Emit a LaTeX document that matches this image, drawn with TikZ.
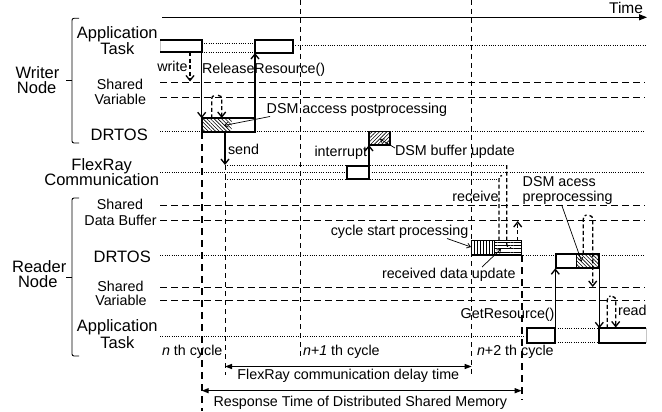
\documentclass[tikz,border=0pt]{standalone}
\usepackage{fontspec}
\setmainfont{Liberation Sans}
\usetikzlibrary{arrows.meta,patterns,patterns.meta}
\begin{document}
\begin{tikzpicture}[x=1pt,y=-1pt,
  every node/.style={inner sep=0pt,outer sep=0pt},
  big/.style={font=\fontsize{16.5}{16}\selectfont,anchor=base},
  small/.style={font=\fontsize{14.3}{14.5}\selectfont,anchor=base},
  rowdash/.style={line width=0.9pt,dash pattern=on 6.5pt off 4.5pt},
  rowdot/.style={line width=1pt,dash pattern=on 1pt off 1.3pt},
  cycline/.style={line width=0.9pt,dash pattern=on 5pt off 4pt},
  respline/.style={line width=1.9pt,dash pattern=on 7pt off 5pt},
  thinline/.style={line width=0.9pt,dash pattern=on 5pt off 4pt},
  task/.style={line width=2pt},
  call/.style={line width=1.3pt,-{Straight Barb[length=5pt,width=8pt]}},
  access/.style={line width=1.3pt,dash pattern=on 4pt off 2.5pt,-{Straight Barb[length=5pt,width=8pt]}},
  hookline/.style={line width=1.3pt,dash pattern=on 4pt off 2.5pt},
  leader/.style={line width=0.7pt,-{Straight Barb[length=3.5pt,width=5pt]}},
  span/.style={line width=1.3pt,{Triangle[length=7pt,width=5pt]}-{Triangle[length=7pt,width=5pt]}},
  hatchnw/.style={pattern={Lines[angle=-45,distance=2.6pt,line width=0.6pt]}},
  hatchne/.style={pattern={Lines[angle=45,distance=2.6pt,line width=0.6pt]}},
  hatchv/.style={pattern={Lines[angle=90,distance=3pt,line width=0.7pt]}},
  hatchh/.style={pattern={Lines[angle=0,distance=3.2pt,line width=0.7pt]}},
]
\useasboundingbox (0,0) rectangle (662,412);

% ---- time axis ----
\coordinate (t0) at (162,17.3);
\coordinate (t1) at (647,17.3);
\draw[line width=1.2pt,-{Triangle[length=8pt,width=6pt]}] (t0) -- (t1);
\node[font=\fontsize{15.5}{16}\selectfont,anchor=base east] (timelbl) at (643,14) {Time};

% ---- node brackets and row names ----
\draw[line width=0.9pt,rounded corners=2pt] (79,18.3) -- (72,18.3) -- (72,143) -- (79,143);
\draw[line width=0.9pt] (72,80) -- (65.5,80);
\draw[line width=0.9pt,rounded corners=2pt] (79,198) -- (72,198) -- (72,356) -- (79,356);
\draw[line width=0.9pt] (72,277.3) -- (65.5,277.3);

\node[big] (wn1) at (37.5,78.3) {Writer};
\node[big] (wn2) at (36.7,94) {Node};
\node[big] (rn1) at (39.2,272.3) {Reader};
\node[big] (rn2) at (37.8,287.7) {Node};

\node[big] (wapp1) at (117.3,38.3) {Application};
\node[big] (wapp2) at (117.3,54.3) {Task};
\node[small] (wsv1) at (120,89.3) {Shared};
\node[small] (wsv2) at (120.3,104) {Variable};
\node[big] (wos) at (119.2,140) {DRTOS};
\node[big] (fr1) at (101.7,170) {FlexRay};
\node[big] (fr2) at (101.7,185) {Communication};
\node[small] (rsb1) at (120,209.5) {Shared};
\node[small] (rsb2) at (120.5,225) {Data Buffer};
\node[big] (ros) at (122.2,262.3) {DRTOS};
\node[small] (rsv1) at (120.5,291.7) {Shared};
\node[small] (rsv2) at (121,305) {Variable};
\node[big] (rapp1) at (117.3,331.7) {Application};
\node[big] (rapp2) at (117.3,348.3) {Task};

% ---- row rules ----
% writer node
\draw[rowdot] (293,45.5) -- (645,45.5);
\draw[rowdot] (201.7,44) -- (255,44);
\draw[rowdot] (201.7,52.5) -- (255,52.5);
\draw[rowdash] (160,82.7) -- (645,82.7);
\draw[rowdash] (160,97.7) -- (645,97.7);
\draw[rowdot] (160,131.7) -- (645,131.7);
% bus
\draw[rowdot] (160,172.5) -- (645,172.5);
\draw[rowdot] (225,165) -- (506.7,165);
\draw[rowdot] (225,179.3) -- (498,179.3);
% reader node
\draw[rowdash] (160,205) -- (645,205);
\draw[rowdash] (160,220.5) -- (645,220.5);
\draw[rowdot] (160,255) -- (645,255);
\draw[rowdash] (160,287.7) -- (645,287.7);
\draw[rowdash] (160,300.5) -- (645,300.5);
\draw[rowdot] (160,336) -- (527.3,336);
\draw[rowdot] (555.3,328.3) -- (598.7,328.3);
\draw[rowdot] (555.3,342.7) -- (598.7,342.7);

% ---- cycle boundaries and time marks ----
\draw[respline] (201.7,132) -- (201.7,411);
\draw[thinline] (225,165) -- (225,375);
\draw[cycline] (300,0) -- (300,357);
\draw[cycline] (471.7,0) -- (471.7,375);
\draw[respline] (521.7,255) -- (521.7,400);

% ---- writer node activity ----
\coordinate (wa1nw) at (160,40.5);
\coordinate (wa1se) at (201.7,52);
\fill[white] (wa1nw) rectangle (wa1se);
\draw[gray!45,line width=0.6pt] (wa1nw) -- (wa1se -| wa1nw);
\draw[task] (wa1nw) -- (wa1nw -| wa1se) -- (wa1se) -- (wa1se -| wa1nw);
\draw[task,fill=white] (255,40.5) rectangle (293,53);

\coordinate (wosnw) at (201.7,118.3);
\coordinate (wosse) at (255,131.7);
\fill[white] (wosnw) rectangle (wosse);
\fill[hatchnw] (wosnw) rectangle (231.7,131.7);
\draw[task] (wosnw) rectangle (wosse);

\coordinate (callA) at (201.7,52);
\coordinate (callB) at (201.7,118.3);
\draw[call] (callA) -- (callB);
\coordinate (wrA) at (190,52.5);
\coordinate (wrB) at (190,81.5);
\draw[access] (wrA) -- (wrB);
\coordinate (relA) at (255,118.3);
\coordinate (relB) at (255,53);
\draw[call] (relA) -- (relB);
\coordinate (whA) at (211.7,118.3);
\coordinate (whB) at (215.5,95.3);
\draw[hookline] (whA) -- (211.7,100) .. controls (211.7,96.5) and (213,95.3) .. (whB);
\coordinate (whC) at (218,95.3);
\coordinate (whD) at (221.7,118);
\draw[access] (whC) .. controls (220.5,95.3) and (221.7,96.5) .. (221.7,100) -- (whD);
\coordinate (sendA) at (225,131.7);
\coordinate (sendB) at (225,165);
\draw[call] (sendA) -- (sendB);

\node[small,anchor=base west] (write) at (157.3,72) {write};
\node[small,anchor=base west] (release) at (202,74) {ReleaseResource()};
\node[small,anchor=base west] (post) at (266.7,113.3) {DSM access postprocessing};
\node[small,anchor=base west] (send) at (228,154) {send};
\coordinate (postB) at (224,125.5);
\draw[leader] (270,116.5) -- (postB);

% ---- bus activity ----
\draw[task,fill=white] (346.7,166) rectangle (369,179.3);
\coordinate (bufnw) at (369,131.7);
\coordinate (bufse) at (390,145);
\fill[white] (bufnw) rectangle (bufse);
\fill[hatchne] (bufnw) rectangle (bufse);
\draw[line width=1.5pt] (bufnw) rectangle (bufse);
\coordinate (irqA) at (369,166);
\coordinate (irqB) at (369,145);
\draw[call] (irqA) -- (irqB);
\node[small,anchor=base east] (irq) at (367,156) {interrupt};
\node[small,anchor=base west] (bufupd) at (395,155) {DSM buffer update};
\coordinate (bufB) at (380,139);
\draw[leader] (395,148) -- (bufB);

% ---- reader node activity ----
\coordinate (csnw) at (471.7,240.7);
\coordinate (csse) at (521.7,255);
\fill[white] (csnw) rectangle (csse);
\fill[hatchv] (csnw) rectangle (494.3,255);
\fill[hatchh] (494.3,240.7) rectangle (csse);
\draw[line width=1.5pt] (csnw) rectangle (csse);
\draw[line width=1pt] (494.3,240.7) -- (494.3,255);

\coordinate (rxA) at (506.7,165);
\coordinate (rxB) at (511,248);
\draw[hookline] (rxA) -- (506.7,244) .. controls (506.7,247) and (508,248) .. (rxB);
\coordinate (rxC) at (499,240.7);
\coordinate (rxD) at (502,175.5);
\draw[hookline] (rxC) -- (499,179) .. controls (499,177) and (500,175.5) .. (rxD);
\coordinate (sbA) at (517.7,240.7);
\coordinate (sbB) at (517.7,221);
\draw[access] (sbA) -- (sbB);

\node[small] (receive) at (475.5,201.5) {receive};
\node[small,anchor=base east] (csp) at (468.3,235) {cycle start processing};
\node[small,anchor=base west] (rdu) at (382,278) {received data update};
\coordinate (cspB) at (471,247);
\draw[leader] (447,238.5) -- (cspB);
\coordinate (rduB) at (501,249);
\draw[leader] (482,267) -- (rduB);

\coordinate (rosnw) at (556,254.3);
\coordinate (rosse) at (599.3,268.3);
\fill[white] (rosnw) rectangle (rosse);
\fill[hatchnw] (576,254.3) rectangle (rosse);
\draw[task] (rosnw) rectangle (rosse);
\draw[line width=1pt] (576,254.3) -- (576,268.3);

\node[small,anchor=base west] (pre1) at (522.7,186) {DSM acess};
\node[small,anchor=base west] (pre2) at (522.7,201.5) {preprocessing};
\coordinate (preB) at (581.7,261.7);
\draw[leader] (561.7,205) -- (preB);

\coordinate (rhA) at (583.3,254.3);
\coordinate (rhB) at (586.5,215);
\draw[hookline] (rhA) -- (583.3,219) .. controls (583.3,216.5) and (584.5,215) .. (rhB);
\coordinate (rhC) at (589.5,215.5);
\coordinate (rhD) at (592.7,287);
\draw[access] (rhC) .. controls (591.5,215.5) and (592.7,217) .. (592.7,219.5) -- (rhD);

\draw[task,fill=white] (527.3,328.3) rectangle (555.3,342.7);
\fill[white] (598.7,328.3) rectangle (646,342.7);
\draw[gray!45,line width=0.6pt] (646,328.3) -- (646,342.7);
\draw[task] (646,328.3) -- (598.7,328.3) -- (598.7,342.7) -- (646,342.7);

\coordinate (getA) at (555.3,342.7);
\coordinate (getB) at (555.3,268.3);
\draw[call] (getA) -- (getB);
\coordinate (retA) at (599.3,268.3);
\coordinate (retB) at (599.3,328.3);
\draw[call] (retA) -- (retB);
\node[small,anchor=base east] (getres) at (554.5,318.5) {GetResource()};

\coordinate (rdA) at (607.3,328.3);
\coordinate (rdB) at (610.5,296);
\draw[hookline] (rdA) -- (607.3,300) .. controls (607.3,297.5) and (608.5,296) .. (rdB);
\coordinate (rdC) at (612.5,296.5);
\coordinate (rdD) at (615.7,327.5);
\draw[access] (rdC) .. controls (614.5,296.5) and (615.7,298) .. (615.7,300.5) -- (rdD);
\node[small,anchor=base west] (read) at (618,315) {read};

% ---- cycles and delay spans ----
\node[small,anchor=base west] (c0) at (162,355.5) {\textit{n} th cycle};
\node[small,anchor=base west] (c1) at (303,355.5) {\textit{n+1} th cycle};
\node[small,anchor=base west] (c2) at (477,355.5) {\textit{n}+2 th cycle};

\coordinate (dlA) at (225,366.5);
\coordinate (dlB) at (471.7,366.5);
\draw[span] (dlA) -- (dlB);
\node[small] (dl) at (348.3,379.5) {FlexRay communication delay time};
\coordinate (rtA) at (201.7,390.7);
\coordinate (rtB) at (521.7,390.7);
\draw[span] (rtA) -- (rtB);
\node[small] (rt) at (360.3,406.7) {Response Time of Distributed Shared Memory};
\end{tikzpicture}
\end{document}
